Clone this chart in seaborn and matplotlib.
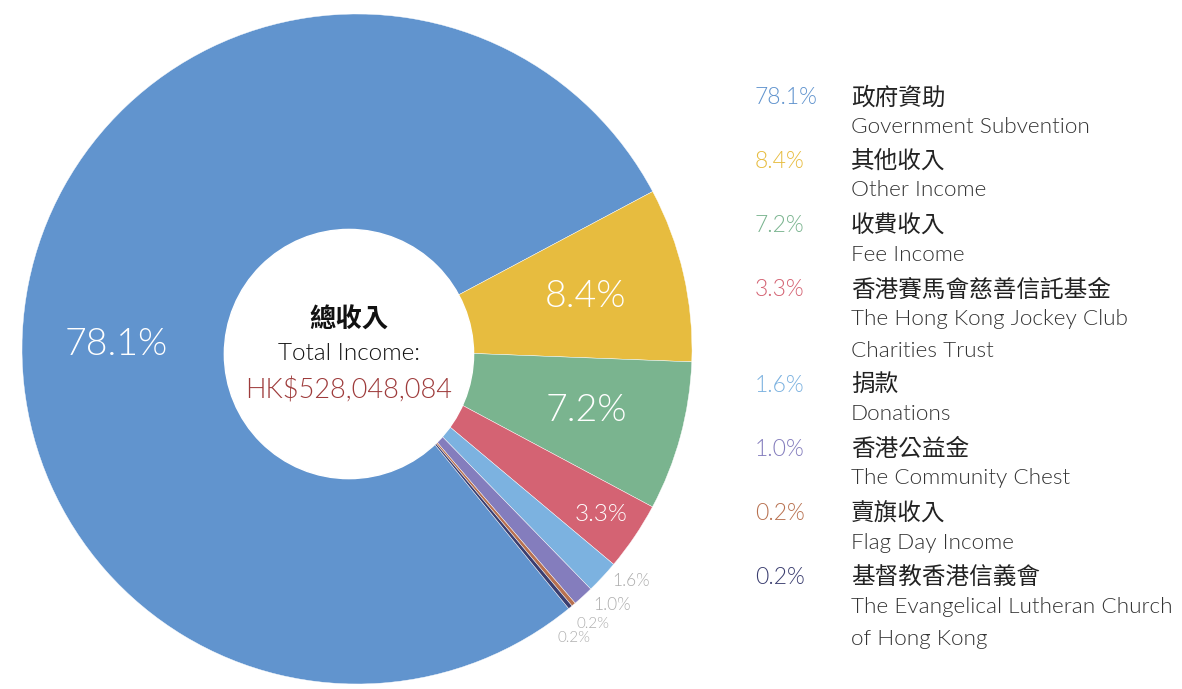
import matplotlib
matplotlib.use("Agg")
import numpy as np
import matplotlib.pyplot as plt
import seaborn as sns

# data
pcts = [78.1, 8.4, 7.2, 3.3, 1.6, 1.0, 0.2, 0.2]
names_zh = ['政府資助', '其他收入', '收費收入', '香港賽馬會慈善信託基金',
            '捐款', '香港公益金', '賣旗收入', '基督教香港信義會']
names_en = ['Government Subvention', 'Other Income', 'Fee Income',
            'The Hong Kong Jockey Club\nCharities Trust', 'Donations',
            'The Community Chest', 'Flag Day Income',
            'The Evangelical Lutheran Church\nof Hong Kong']
colors = ['#6194CE', '#E7BC3F', '#7AB48F', '#D46373',
          '#7CB2E0', '#847DBD', '#B87150', '#3B3E70']
total_label = 'HK$528,048,084'

sns.set_theme(style='white')
plt.rcParams['font.family'] = ['Lato', 'Noto Sans CJK TC', 'DejaVu Sans']
LIGHT = 300

W, H = 1182, 689
fig = plt.figure(figsize=(W / 100, H / 100), dpi=100)

# pie axes: centre (357, 349) px from top, radius 335 px
cx, cy, r = 357, 349, 335
ax = fig.add_axes([(cx - r) / W, (H - cy - r) / H, 2 * r / W, 2 * r / H])
wedges, _ = ax.pie(pcts, colors=sns.color_palette(colors), startangle=-50.8,
                   counterclock=False, radius=1,
                   wedgeprops=dict(linewidth=0.3, edgecolor='white'))
ax.set_xlim(-1, 1)
ax.set_ylim(-1, 1)
ax.set_aspect('equal')
ax.axis('off')

# centre hole
ax.add_patch(plt.Circle((-0.024, -0.015), 0.372, color='white', zorder=5))
ax.text(-0.024, 0.085, '總收入', ha='center', va='center', fontsize=19,
        fontweight='bold', color='#111111', family=['Noto Sans CJK TC'], zorder=6)
ax.text(-0.024, -0.012, 'Total Income:', ha='center', va='center', fontsize=17.5,
        color='#111111', fontweight=LIGHT, zorder=6)
ax.text(-0.024, -0.125, total_label, ha='center', va='center', fontsize=19.5,
        color='#9E3B3B', fontweight=LIGHT, zorder=6)

# slice labels: (distance, angle override, size, colour, ha)
label_style = [
    (0.72, 179, 27, 'white', 'center'),
    (0.70, None, 27, 'white', 'center'),
    (0.71, None, 27, 'white', 'center'),
    (0.88, None, 17.5, 'white', 'center'),
    (1.03, -42.2, 12.5, '#ADADAD', 'left'),
    (1.04, -47.2, 12.5, '#ADADAD', 'left'),
    (1.05, -51.4, 11, '#ADADAD', 'left'),
    (1.05, -55.3, 11, '#ADADAD', 'left'),
]
for w, p, (dist, ang, size, col, ha) in zip(wedges, pcts, label_style):
    if ang is None:
        ang = (w.theta1 + w.theta2) / 2
    a = np.deg2rad(ang)
    ax.text(dist * np.cos(a), dist * np.sin(a), f'{p:.1f}%', ha=ha, va='center',
            fontsize=size, color=col, fontweight=LIGHT, zorder=6)

# legend
rows_y = [98, 161, 226, 290, 385, 449, 514, 578]
line_h = 32
for y, p, zh, en, col in zip(rows_y, pcts, names_zh, names_en, colors):
    fig.text(755 / W, 1 - y / H, f'{p:.1f}%', ha='left', va='center',
             fontsize=16.5, color=col, fontweight=LIGHT)
    fig.text(851 / W, 1 - y / H, zh, ha='left', va='center', fontsize=17,
             color='#222222', fontweight=LIGHT, family=['Noto Sans CJK TC'])
    for i, line in enumerate(en.split('\n')):
        yy = y + 29 + i * line_h
        fig.text(851 / W, 1 - yy / H, line, ha='left', va='center',
                 fontsize=16.2, color='#333333', fontweight=LIGHT)

fig.savefig('out.png', dpi=100, facecolor='white')
